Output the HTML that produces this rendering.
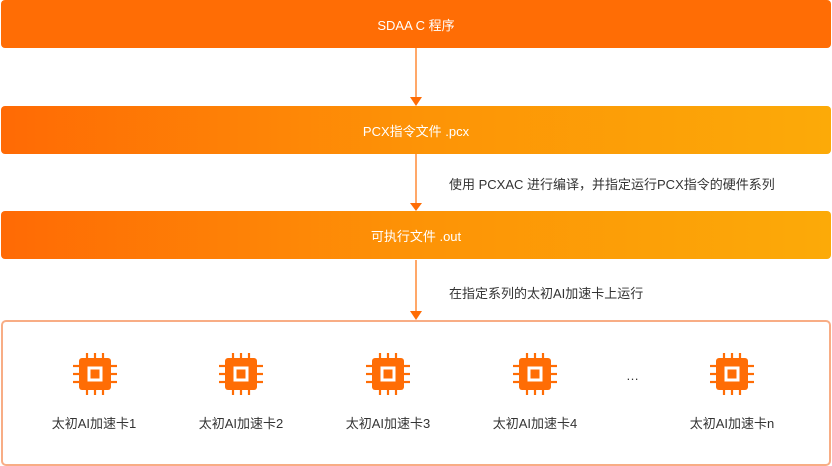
<!DOCTYPE html>
<html><head><meta charset="utf-8"><style>
body{margin:0;width:832px;height:466px;background:#fff;position:relative;overflow:hidden;font-family:"Liberation Sans","Noto Sans CJK SC",sans-serif}
.bar{position:absolute;left:1px;width:830px;height:48px;border-radius:4px;color:#fff;font-size:13px;display:flex;align-items:center;justify-content:center}
.b1{top:0;background:#ff6d05}
.g{background:linear-gradient(90deg,#ff6a05 0%,#fd9306 50%,#fcaa08 100%)}
.lbl{position:absolute;font-size:13px;color:#333}
.cont{position:absolute;left:1px;top:320px;width:826px;height:142px;border:2px solid #f8ad85;border-radius:5px}
.card{position:absolute;top:413px;font-size:13px;color:#333;transform:translateX(-50%);white-space:nowrap}
</style></head><body>
<div class="bar b1">SDAA C 程序</div>
<div class="bar g" style="top:106px">PCX指令文件 .pcx</div>
<div class="bar g" style="top:211px">可执行文件 .out</div>
<svg width="832" height="466" style="position:absolute;left:0;top:0">
<g stroke="#ff6d05" stroke-width="1.2"><line x1="416" y1="48" x2="416" y2="98"/><line x1="416" y1="154" x2="416" y2="204"/><line x1="416" y1="260" x2="416" y2="312"/></g>
<g fill="#ff6d05"><path d="M410,97 L422,97 L416,106Z"/><path d="M410,203 L422,203 L416,211Z"/><path d="M410,311 L422,311 L416,320Z"/></g>
<defs><g id="chip"><rect x="-16" y="-16" width="32" height="32" rx="3" fill="#ff6d05"/>
<rect x="-6" y="-6" width="12" height="12" fill="#ff6d05" stroke="#fff" stroke-width="3"/>
<g stroke="#ff6d05" stroke-width="2.2"><line x1="-8" y1="-21" x2="-8" y2="-15"/><line x1="0" y1="-21" x2="0" y2="-15"/><line x1="8" y1="-21" x2="8" y2="-15"/>
<line x1="-8" y1="21" x2="-8" y2="15"/><line x1="0" y1="21" x2="0" y2="15"/><line x1="8" y1="21" x2="8" y2="15"/>
<line x1="-22" y1="-8" x2="-15" y2="-8"/><line x1="-22" y1="0" x2="-15" y2="0"/><line x1="-22" y1="8" x2="-15" y2="8"/>
<line x1="22" y1="-8" x2="15" y2="-8"/><line x1="22" y1="0" x2="15" y2="0"/><line x1="22" y1="8" x2="15" y2="8"/></g></g></defs>
</svg>
<div class="lbl" style="left:449px;top:174px">使用 PCXAC 进行编译，并指定运行PCX指令的硬件系列</div>
<div class="lbl" style="left:449px;top:283px">在指定系列的太初AI加速卡上运行</div>
<div class="cont"></div>
<svg width="832" height="466" style="position:absolute;left:0;top:0">
<use href="#chip" x="95" y="374"/><use href="#chip" x="241" y="374"/><use href="#chip" x="388" y="374"/><use href="#chip" x="535" y="374"/><use href="#chip" x="732" y="374"/>
</svg>
<div class="lbl" style="left:626px;top:368px">…</div>
<div class="card" style="left:94px">太初AI加速卡1</div>
<div class="card" style="left:241px">太初AI加速卡2</div>
<div class="card" style="left:388px">太初AI加速卡3</div>
<div class="card" style="left:535px">太初AI加速卡4</div>
<div class="card" style="left:732px">太初AI加速卡n</div>
</body></html>
